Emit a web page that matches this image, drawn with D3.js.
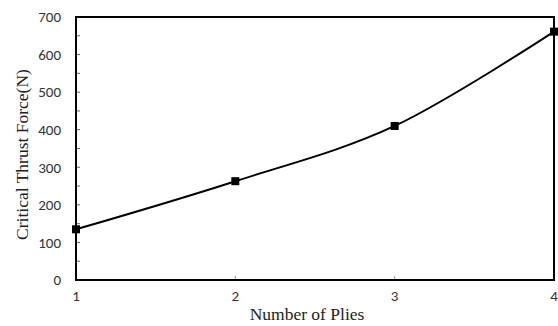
<!DOCTYPE html>
<html>
<head>
<meta charset="utf-8">
<script src="https://cdn.jsdelivr.net/npm/d3@7"></script>
<style>
  body { margin: 0; background: #fff; }
  svg { display: block; }
</style>
</head>
<body>
<div id="chart"></div>
<script>
// data
const plies = [1, 2, 3, 4];
const thrustForce = [135, 263, 410, 661];
const yTicks = [0, 100, 200, 300, 400, 500, 600, 700];

const width = 558, height = 326;
const margin = { top: 17, right: 4, bottom: 46, left: 76 };

const svg = d3.select('#chart')
    .append('svg')
    .attr('width', width)
    .attr('height', height);

const x = d3.scaleLinear()
    .domain([1, 4])
    .range([margin.left, width - margin.right]);

const y = d3.scaleLinear()
    .domain([0, 700])
    .range([height - margin.bottom, margin.top]);

// inside tick marks every 50 on the y axis
svg.append('g')
    .selectAll('line')
    .data(d3.range(0, 701, 50))
    .join('line')
    .attr('x1', margin.left)
    .attr('x2', margin.left + 4)
    .attr('y1', d => y(d))
    .attr('y2', d => y(d))
    .attr('stroke', '#666')
    .attr('stroke-width', 1);

// x tick marks (inside)
svg.append('g')
    .selectAll('line')
    .data(plies)
    .join('line')
    .attr('x1', d => x(d))
    .attr('x2', d => x(d))
    .attr('y1', y(0))
    .attr('y2', y(0) - 4)
    .attr('stroke', '#999')
    .attr('stroke-width', 1);

// frame
svg.append('rect')
    .attr('x', x(1))
    .attr('y', y(700))
    .attr('width', x(4) - x(1))
    .attr('height', y(0) - y(700))
    .attr('fill', 'none')
    .attr('stroke', '#000')
    .attr('stroke-width', 2);

// y tick labels
svg.append('g')
    .selectAll('text')
    .data(yTicks)
    .join('text')
    .attr('x', margin.left - 15)
    .attr('y', d => y(d))
    .attr('dy', '0.35em')
    .attr('text-anchor', 'end')
    .attr('font-family', 'Carlito, "Open Sans", "DejaVu Sans", sans-serif')
    .attr('font-size', 15)
    .attr('fill', '#333')
    .text(d => d);

// x tick labels
svg.append('g')
    .selectAll('text')
    .data(plies)
    .join('text')
    .attr('x', d => x(d))
    .attr('y', y(0) + 16)
    .attr('dy', '0.35em')
    .attr('text-anchor', 'middle')
    .attr('font-family', 'Carlito, "Open Sans", "DejaVu Sans", sans-serif')
    .attr('font-size', 15)
    .attr('fill', '#333')
    .text(d => d);

// axis titles
svg.append('text')
    .attr('x', 307)
    .attr('y', 320)
    .attr('text-anchor', 'middle')
    .attr('font-family', '"Liberation Serif", "Times New Roman", serif')
    .attr('font-size', 17.5)
    .attr('fill', '#222')
    .text('Number of Plies');

svg.append('text')
    .attr('transform', `translate(28,${(y(0) + y(700)) / 2 + 6}) rotate(-90)`)
    .attr('text-anchor', 'middle')
    .attr('font-family', '"Liberation Serif", "Times New Roman", serif')
    .attr('font-size', 17.5)
    .attr('fill', '#222')
    .text('Critical Thrust Force(N)');

// smoothed line
const points = plies.map((p, i) => [p, thrustForce[i]]);
const line = d3.line()
    .x(d => x(d[0]))
    .y(d => y(d[1]))
    .curve(d3.curveCatmullRom.alpha(0));

svg.append('path')
    .datum(points)
    .attr('d', line)
    .attr('fill', 'none')
    .attr('stroke', '#000')
    .attr('stroke-width', 2);

// square markers
svg.append('g')
    .selectAll('rect')
    .data(points)
    .join('rect')
    .attr('x', d => x(d[0]) - 4)
    .attr('y', d => y(d[1]) - 4)
    .attr('width', 8)
    .attr('height', 8)
    .attr('fill', '#000');
</script>
</body>
</html>
